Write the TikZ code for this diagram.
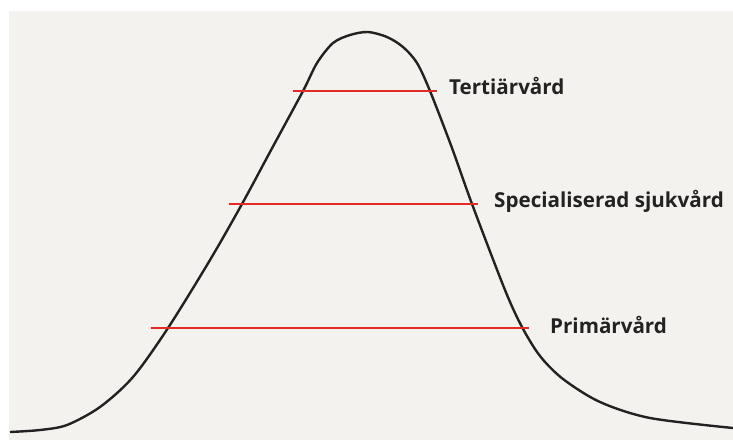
\documentclass[tikz,border=0pt]{standalone}
\usepackage{fontspec}
\setmainfont{Open Sans}
\definecolor{bgc}{HTML}{F3F2EE}
\definecolor{curvec}{HTML}{222222}
\definecolor{redc}{HTML}{E42A26}
\definecolor{txtc}{HTML}{222222}
\begin{document}
\begin{tikzpicture}[x=1pt,y=-1pt,
  level/.style={draw=redc,line width=2.2pt},
  lbl/.style={anchor=base west,inner sep=0pt,font=\bfseries\fontsize{20.6}{24}\selectfont,text=txtc},
  bell/.style={draw=curvec,line width=2.4pt}]
\useasboundingbox (0,0) rectangle (733,440);
\fill[white] (0,0) rectangle (733,440);
\fill[bgc] (9,11) rectangle (733,440);
\draw[bell] plot[smooth,tension=0.5] coordinates {(10,432) (40,430) (67,425) (100,407) (133,377) (168,328) (210,260) (242,204) (270,152) (303,91) (317,63) (333,43) (350,35) (368,32) (387,37) (403,47) (417,63) (430,91) (452,148) (472,204) (505,290) (522,327) (540,356) (563,379) (600,402) (650,418) (733,428)};
\draw[level] (293,91) -- (437,91);
\draw[level] (229,204) -- (478,204);
\draw[level] (151,328) -- (529,328);
\node[lbl] (tert) at (449,94) {Tertiärvård};
\node[lbl] (spec) at (494,207) {Specialiserad sjukvård};
\node[lbl] (prim) at (550,333) {Primärvård};
\end{tikzpicture}
\end{document}
